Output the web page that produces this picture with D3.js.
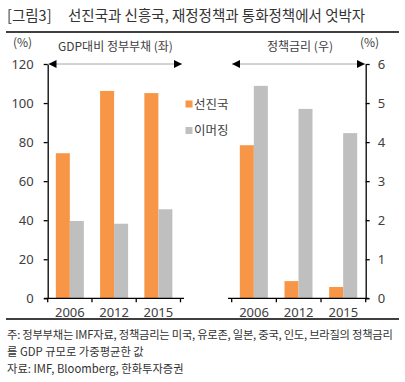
<!DOCTYPE html>
<html><head><meta charset="utf-8">
<script src="https://cdn.jsdelivr.net/npm/d3@7"></script>
<style>body{margin:0;background:#fff;}svg{display:block;font-family:"Noto Sans CJK KR","Noto Sans",sans-serif;}</style>
</head><body>
<svg id="c" width="405" height="382"></svg>
<script>
const years = ["2006", "2012", "2015"];
const seriesNames = ["선진국", "이머징"];
const debtAdvanced = [74.3, 106.2, 105.1];
const debtEmerging = [39.6, 38.2, 45.6];
const rateAdvanced = [3.92, 0.44, 0.29];
const rateEmerging = [5.44, 4.85, 4.23];
const leftTicks = [0, 20, 40, 60, 80, 100, 120];
const rightTicks = [0, 1, 2, 3, 4, 5, 6];
const colors = ["#F79646", "#BFBFBF"];

const svg = d3.select("#c");
const textCol = "#404040";
const y0 = 298.3, y1 = 64;

// Title
svg.append("text").attr("x", 7).attr("y", 21).attr("font-size", 14.5).attr("fill", "#333").text("[그림3]");
svg.append("text").attr("x", 68).attr("y", 21).attr("font-size", 14.5).attr("fill", "#333").text("선진국과 신흥국, 재정정책과 통화정책에서 엇박자");
svg.append("line").attr("x1", 6).attr("x2", 399).attr("y1", 32).attr("y2", 32).attr("stroke", "#000").attr("stroke-width", 1.5);

// Scales
const yL = d3.scaleLinear().domain([0, 120]).range([y0, y1]);
const yR = d3.scaleLinear().domain([0, 6]).range([y0, y1]);
const xL = d3.scaleBand().domain(years).range([47.7, 180.5]);
const xR = d3.scaleBand().domain(years).range([231.7, 365.7]);
const inner = d3.scaleBand().domain(seriesNames).range([0, xL.bandwidth()]).paddingInner(0).paddingOuter(0.58);

function drawBars(x, y, vals, seriesIdx) {
  svg.append("g").selectAll("rect").data(vals).join("rect")
    .attr("x", (d, i) => x(years[i]) + inner(seriesNames[seriesIdx]))
    .attr("width", inner.bandwidth())
    .attr("y", d => y(d))
    .attr("height", d => y(0) - y(d))
    .attr("fill", colors[seriesIdx]);
}
drawBars(xL, yL, debtAdvanced, 0);
drawBars(xL, yL, debtEmerging, 1);
drawBars(xR, yR, rateAdvanced, 0);
drawBars(xR, yR, rateEmerging, 1);

function styleAxis(g) {
  g.selectAll("path").attr("stroke", "#000").attr("stroke-width", 1.3);
  g.selectAll("line").attr("stroke", "#000").attr("stroke-width", 1.3);
  g.selectAll("text").attr("fill", textCol).attr("font-size", 13).attr("font-family", "\"Noto Sans\",\"Noto Sans CJK KR\",sans-serif");
}
// Left y axis
const gl = svg.append("g").attr("transform", "translate(47.7,0)")
  .call(d3.axisLeft(yL).tickValues(leftTicks).tickFormat(d3.format("d")).tickSize(4).tickSizeOuter(0).tickPadding(10));
styleAxis(gl);
// Right y axis
const gr = svg.append("g").attr("transform", "translate(365.7,0)")
  .call(d3.axisRight(yR).tickValues(rightTicks).tickFormat(d3.format("d")).tickSize(4).tickSizeOuter(0).tickPadding(8));
styleAxis(gr);

// x axes
function xAxis(x, lo, hi) {
  const ticks = x.domain().map(d => x(d)).concat([x.range()[1]]);
  const g = svg.append("g");
  g.append("line").attr("x1", lo).attr("x2", hi).attr("y1", y0).attr("y2", y0).attr("stroke", "#000").attr("stroke-width", 1.3);
  g.selectAll("line.t").data(ticks).join("line").attr("class", "t")
    .attr("x1", d => d).attr("x2", d => d).attr("y1", y0).attr("y2", y0 + 4).attr("stroke", "#000").attr("stroke-width", 1.3);
  g.selectAll("text").data(years).join("text")
    .attr("x", d => x(d) + x.bandwidth() / 2).attr("y", y0 + 19)
    .attr("text-anchor", "middle").attr("font-size", 13).attr("fill", textCol)
    .attr("font-family", "\"Noto Sans\",\"Noto Sans CJK KR\",sans-serif").text(d => d);
}
xAxis(xL, 44, 184);
xAxis(xR, 228, 369);

// Arrows
const defs = svg.append("defs");
defs.append("marker").attr("id", "ah").attr("viewBox", "0 0 10 10").attr("refX", 10).attr("refY", 5)
  .attr("markerWidth", 9).attr("markerHeight", 8).attr("markerUnits", "userSpaceOnUse").attr("orient", "auto-start-reverse")
  .append("path").attr("d", "M0,0L10,5L0,10Z").attr("fill", "#000");
function arrow(a, b) {
  svg.append("line").attr("x1", a).attr("x2", b).attr("y1", y1).attr("y2", y1)
    .attr("stroke", "#A6A6A6").attr("stroke-width", 1)
    .attr("marker-start", "url(#ah)").attr("marker-end", "url(#ah)");
}
arrow(48.5, 182);
arrow(232, 365);

// Axis titles
svg.append("text").attr("x", 13).attr("y", 47).attr("font-size", 12).attr("fill", textCol).text("(%)");
svg.append("text").attr("x", 360).attr("y", 47).attr("font-size", 12).attr("fill", textCol).text("(%)");
svg.append("text").attr("x", 58).attr("y", 51).attr("font-size", 12).attr("fill", textCol).text("GDP대비 정부부채 (좌)");
svg.append("text").attr("x", 267).attr("y", 51).attr("font-size", 12).attr("fill", textCol).text("정책금리 (우)");

// Legend
seriesNames.forEach((s, i) => {
  const ly = 104 + i * 26.5;
  svg.append("rect").attr("x", 185.5).attr("y", ly - 3.5).attr("width", 7).attr("height", 7).attr("fill", colors[i]);
  svg.append("text").attr("x", 194).attr("y", ly + 4.5).attr("font-size", 12.5).attr("fill", textCol).text(s);
});

// Bottom rule and notes
svg.append("line").attr("x1", 6).attr("x2", 399).attr("y1", 319).attr("y2", 319).attr("stroke", "#000").attr("stroke-width", 1.5);
const notes = ["주: 정부부채는 IMF자료, 정책금리는 미국, 유로존, 일본, 중국, 인도, 브라질의 정책금리",
  "를 GDP 규모로 가중평균한 값", "자료: IMF, Bloomberg, 한화투자증권"];
notes.forEach((t, i) => {
  svg.append("text").attr("x", 7).attr("y", 339 + i * 17).attr("font-size", 11.3).attr("fill", "#333")
    .attr("letter-spacing", i === 0 ? -0.25 : 0).text(t);
});
</script>
</body></html>
